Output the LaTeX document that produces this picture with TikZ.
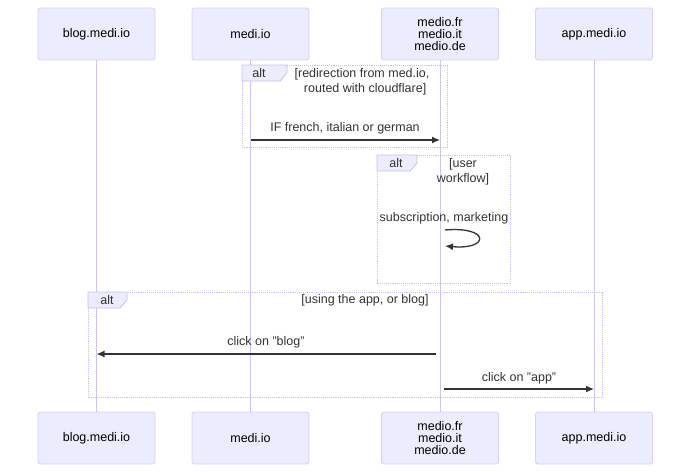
\documentclass[tikz,border=0pt]{standalone}
\usepackage{fontspec}
\setmainfont{Liberation Sans}
\definecolor{actfill}{HTML}{ECECFF}
\definecolor{actdraw}{HTML}{D9CFF5}
\definecolor{lifeline}{HTML}{CFC3F2}
\definecolor{framecol}{HTML}{C9BDF0}
\definecolor{msgcol}{HTML}{333333}
\begin{document}
\begin{tikzpicture}[x=1pt,y=-1pt,
  actor/.style={draw=actdraw,fill=actfill,rounded corners=2.5pt,minimum width=117pt,minimum height=52pt,
    inner sep=0pt,align=center,font=\fontsize{12.5}{12}\selectfont,line width=0.8pt},
  life/.style={draw=lifeline,line width=1pt},
  altframe/.style={draw=framecol,densely dotted,line width=0.9pt},
  altlab/.style={draw=framecol,fill=actfill,line width=0.8pt},
  txt/.style={font=\fontsize{12.5}{15.5}\selectfont,text=msgcol,align=center,inner sep=0pt},
  msg/.style={draw=msgcol,line width=1.3pt,-{Latex[length=8pt,width=7pt]}}
]
\usetikzlibrary{arrows.meta}
\useasboundingbox (0,0) rectangle (690,471);
% actors top
\node[actor] (bT) at (96.5,34) {blog.medi.io};
\node[actor] (mT) at (250.5,34) {medi.io};
\node[actor] (fT) at (440,34) {medio.fr\\medio.it\\medio.de};
\node[actor] (aT) at (594,34) {app.medi.io};
% actors bottom
\node[actor] (bB) at (96.5,438) {blog.medi.io};
\node[actor] (mB) at (250.5,438) {medi.io};
\node[actor] (fB) at (440,438) {medio.fr\\medio.it\\medio.de};
\node[actor] (aB) at (594,438) {app.medi.io};
% lifelines
\draw[life] (bT.south) -- (bB.north);
\draw[life] (mT.south) -- (mB.north);
\draw[life] (fT.south) -- (fB.north);
\draw[life] (aT.south) -- (aB.north);
% alt 1
\draw[altframe] (242,65) rectangle (447,147);
\draw[altlab] (242,65) -- (287,65) -- (287,73) -- (280,81) -- (242,81) -- cycle;
\node[txt] (alt1) at (259,73) {alt};
\node[txt] (c1) at (362,82) {[redirection from med.io,\\ \hphantom{x}routed with cloudflare]};
\coordinate (m1s) at (250.5,140);
\coordinate (m1e) at (440,140);
\draw[msg] (m1s) -- (m1e);
\node[txt] (l1) at (345,128) {IF french, italian or german};
% alt 2
\draw[altframe] (377,155) rectangle (510,283);
\draw[altlab] (377,155) -- (417,155) -- (417,163) -- (410,171) -- (377,171) -- cycle;
\node[txt] (alt2) at (396,163) {alt};
\node[txt] (c2) at (463,172) {[user\\workflow]};
\node[txt] (l2) at (444,218) {subscription, marketing};
\coordinate (s1) at (445,230);
\coordinate (s2) at (445,246);
\draw[msg] (s1) .. controls (490,226) and (490,250) .. (s2);
% alt 3
\draw[altframe] (88,292) rectangle (602,397);
\draw[altlab] (88,292) -- (127,292) -- (127,300) -- (120,308) -- (88,308) -- cycle;
\node[txt] (alt3) at (107,300) {alt};
\node[txt] (c3) at (365,300) {[using the app, or blog]};
\coordinate (m2s) at (436,354);
\coordinate (m2e) at (96.5,354);
\draw[msg] (m2s) -- (m2e);
\node[txt] (l3) at (266,342) {click on "blog"};
\coordinate (m3s) at (444,389);
\coordinate (m3e) at (594,389);
\draw[msg] (m3s) -- (m3e);
\node[txt] (l4) at (519,378) {click on "app"};
\end{tikzpicture}
\end{document}
